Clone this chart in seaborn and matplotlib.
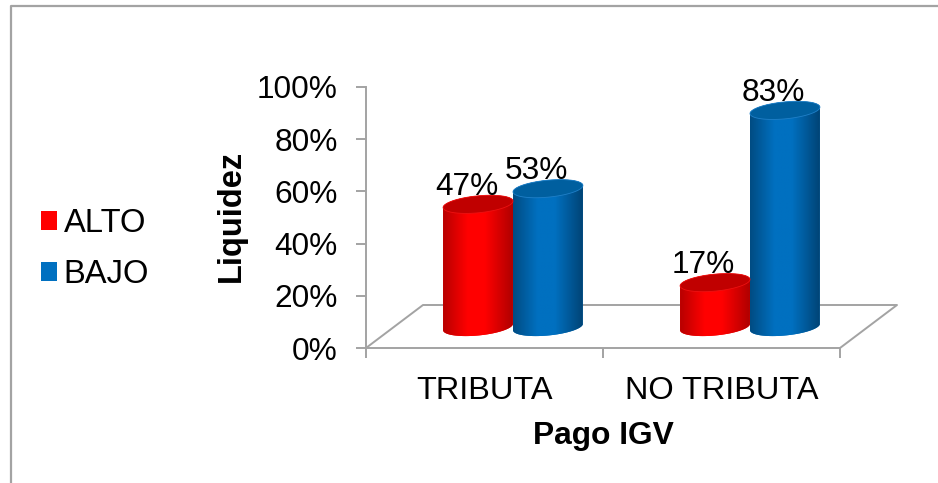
import numpy as np
import pandas as pd
import matplotlib
matplotlib.use("Agg")
import matplotlib.pyplot as plt
import seaborn as sns
from matplotlib.colors import LinearSegmentedColormap
from matplotlib.lines import Line2D
from matplotlib.path import Path
from matplotlib.patches import PathPatch
from matplotlib.ticker import PercentFormatter

categories = ["TRIBUTA", "NO TRIBUTA"]
series_names = ["ALTO", "BAJO"]
alto_values = [47, 17]
bajo_values = [53, 83]
y_ticks = [0, 20, 40, 60, 80, 100]

W, H = 938, 483
GRAY = "#a3a3a3"
TICK_SIZE = 22.8
CAT_SIZE = 23.4
LEGEND_SIZE = 23.6

sns.set_theme(style="white")
plt.rcParams["font.family"] = ["Liberation Sans", "DejaVu Sans"]

df = pd.DataFrame({
    "pago": categories * 2,
    "nivel": [series_names[0]] * 2 + [series_names[1]] * 2,
    "valor": alto_values + bajo_values,
})


def px_rect(x0, y_top, x1, y_bottom):
    """Axes rectangle from image pixels (y measured from the top)."""
    return [x0 / W, 1 - y_bottom / H, (x1 - x0) / W, (y_bottom - y_top) / H]


def cylinder_outline(cx, half_w, base, top, b, s):
    """Side silhouette of a sheared cylinder, in data units."""
    t_top = np.linspace(0, np.pi, 40)
    t_low = np.linspace(np.pi, 2 * np.pi, 40)
    xs = np.r_[cx + half_w * np.cos(t_top), cx + half_w * np.cos(t_low)]
    ys = np.r_[top + b * np.sin(t_top) + s * np.cos(t_top),
               base + b * np.sin(t_low) + s * np.cos(t_low)]
    return np.c_[xs, ys]


def ellipse_path(cx, half_w, cy, b, s):
    t = np.linspace(0, 2 * np.pi, 80)
    return Path(np.c_[cx + half_w * np.cos(t), cy + b * np.sin(t) + s * np.cos(t)], closed=True)


fig = plt.figure(figsize=(W / 100, H / 100), dpi=100, facecolor="white")

# frame of the pasted chart
fig.add_artist(Line2D([11 / W, 11 / W, 1], [0, 1 - 6 / H, 1 - 6 / H], color=GRAY, lw=1.6))

# front plane: the value axis and the floor
ax = fig.add_axes(px_rect(366, 87, 840, 348))
ax.set_xlim(-0.5, 1.5)
ax.set_ylim(0, 100)
ax.set_yticks(y_ticks)
ax.yaxis.set_major_formatter(PercentFormatter(100, decimals=0))
ax.set_xticks([-0.5, 0.5, 1.5])
ax.set_xticklabels([])
ax.set_xticks([0, 1], minor=True)
ax.set_xticklabels(categories, minor=True)
ax.tick_params(axis="both", which="major", length=7.2, width=1.4, color=GRAY,
               left=True, bottom=True, labelsize=TICK_SIZE, labelcolor="black", pad=13)
ax.tick_params(axis="x", which="minor", length=0, labelsize=CAT_SIZE, labelcolor="black", pad=20)
sns.despine(ax=ax, top=True, right=True)
for side in ["left", "bottom"]:
    ax.spines[side].set_color(GRAY)
    ax.spines[side].set_linewidth(1.4)
depth_x, depth_y = 57 / 474, 43 / 261
ax.plot([0, depth_x, 1 + depth_x, 1], [0, depth_y, depth_y, 0], color=GRAY, lw=1.4,
        transform=ax.transAxes, clip_on=False)
ax.set_ylabel("Liquidez", fontsize=23.5, fontweight="bold", color="black")
ax.yaxis.set_label_coords((247 - 366) / 474, (348 - 216) / 261)
ax.set_xlabel("Pago IGV", fontsize=22.9, fontweight="bold", color="black")
ax.xaxis.set_label_coords((603 - 366) / 474, (348 - 421) / 261)

# the cylinders stand half way back on the floor; the extra room below 0 holds their round base
below = 10
px_y = 100 / 261
bars_ax = fig.add_axes(px_rect(366 + 28.5, 87 - 21, 840 + 28.5, 348 - 21 + below / px_y))
bars_ax.patch.set_alpha(0)
sns.barplot(data=df, x="pago", y="valor", hue="nivel", order=categories, hue_order=series_names,
            palette=["#ff0000", "#0070c0"], width=0.59, gap=0, saturation=1,
            linewidth=0, ax=bars_ax)
bars_ax.set_axis_off()

half_b = 8.5 * px_y
shear = 3.2 * px_y
shades = {
    "ALTO": (["#b80000", "#ff0000", "#ff0000", "#b00000"], "#c00000", "#ee1111"),
    "BAJO": (["#004c83", "#0070c0", "#0070c0", "#004476"], "#005f9f", "#2080c8"),
}

for name, container in zip(series_names, bars_ax.containers):
    colors, lid_color, rim_color = shades[name]
    cmap = LinearSegmentedColormap.from_list(name, list(zip([0, 0.35, 0.6, 1], colors)))
    for bar in container:
        x, w, v = bar.get_x(), bar.get_width(), bar.get_height()
        cx = x + w / 2
        outline = PathPatch(Path(cylinder_outline(cx, w / 2, 0, v, half_b, shear), closed=True),
                            transform=bars_ax.transData, fc="none", ec="none")
        bars_ax.add_patch(outline)
        bar.set_y(-below)
        bar.set_height(v + below + half_b)
        bar.set_clip_path(outline)
        img = bars_ax.imshow(np.linspace(0, 1, 120)[None, :], cmap=cmap, aspect="auto",
                             extent=[x, x + w, -below, v + half_b * 2],
                             zorder=bar.get_zorder() + 0.1, interpolation="bilinear")
        img.set_clip_path(outline)
        bars_ax.add_patch(PathPatch(ellipse_path(cx, w / 2, v, half_b, shear), fc=lid_color,
                                    ec=rim_color, lw=0.6, zorder=bar.get_zorder() + 0.2,
                                    clip_on=False))
        bars_ax.annotate(f"{v:.0f}%", (cx, v), xytext=(-11.5 * 0.72, 9.5 * 0.72),
                         textcoords="offset points", ha="center", va="baseline",
                         fontsize=TICK_SIZE, color="black", zorder=5, annotation_clip=False)
bars_ax.set_xlim(-0.5, 1.5)
bars_ax.set_ylim(-below, 100)

sns.move_legend(bars_ax, "center left", bbox_to_anchor=(31 / W, 1 - 249 / H),
                bbox_transform=fig.transFigure, title=None, frameon=False, fontsize=LEGEND_SIZE,
                handlelength=0.5, handleheight=0.5, handletextpad=0.2,
                labelspacing=0.62, borderpad=0.3, borderaxespad=0, labelcolor="black")

fig.savefig("out.png", dpi=100)
